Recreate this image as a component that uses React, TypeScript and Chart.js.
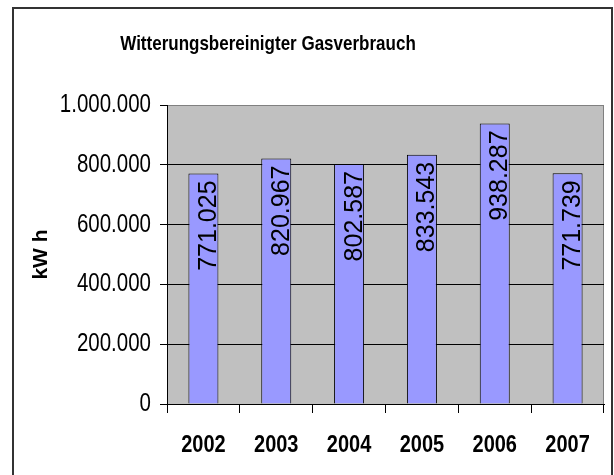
import { useEffect, useRef } from 'react';
import { Chart, registerables } from 'chart.js';

Chart.register(...registerables);

const years = ['2002', '2003', '2004', '2005', '2006', '2007'];
const consumption = [771025, 820967, 802587, 833543, 938287, 771739];
const yTickValues = [0, 200000, 400000, 600000, 800000, 1000000];
const chartTitle = 'Witterungsbereinigter Gasverbrauch';
const yAxisTitle = 'kW h';

const FONT = '"Liberation Sans", Arial, sans-serif';
// the reference's horizontal text is drawn slightly condensed (taller than wide)
const TEXT_STRETCH = 1.22;

const fmt = (n: number) => String(Math.round(n)).replace(/\B(?=(\d{3})+(?!\d))/g, '.');

const stretchPlugin = {
  id: 'textStretch',
  beforeDraw(chart: any) {
    const ctx: any = chart.ctx;
    if (ctx.__origFillText) return;
    const orig = ctx.fillText;
    ctx.__origFillText = orig;
    ctx.fillText = function (this: any, ...args: any[]) {
      const t: DOMMatrix = this.getTransform();
      if (Math.abs(t.b) > 1e-6 || Math.abs(t.c) > 1e-6) {
        return orig.apply(this, args);
      }
      const x = args[1];
      const y = args[2];
      const py = t.b * x + t.d * y + t.f;
      this.save();
      const m = new DOMMatrix().translate(0, py).scale(1, TEXT_STRETCH).translate(0, -py).multiply(t);
      this.setTransform(m);
      const r = orig.apply(this, args);
      this.restore();
      return r;
    };
  },
};

const framePlugin = {
  id: 'frame',
  beforeDraw(chart: any) {
    const { ctx, chartArea } = chart;
    ctx.save();
    ctx.fillStyle = '#ffffff';
    ctx.fillRect(0, 0, chart.width, chart.height);
    // outer border
    ctx.strokeStyle = '#333333';
    ctx.lineWidth = 2;
    ctx.beginPath();
    ctx.moveTo(13, 480);
    ctx.lineTo(13, 8);
    ctx.lineTo(612, 8);
    ctx.lineTo(612, 480);
    ctx.stroke();
    // plot area
    ctx.fillStyle = '#C0C0C0';
    ctx.fillRect(chartArea.left, chartArea.top, chartArea.right - chartArea.left, chartArea.bottom - chartArea.top);
    ctx.strokeStyle = '#808080';
    ctx.lineWidth = 1;
    ctx.strokeRect(chartArea.left + 0.5, chartArea.top + 0.5, chartArea.right - chartArea.left - 1, chartArea.bottom - chartArea.top);
    ctx.restore();
  },
  afterDraw(chart: any) {
    const { ctx } = chart;
    ctx.save();
    ctx.fillStyle = '#000';
    ctx.font = `bold 17px ${FONT}`;
    ctx.textAlign = 'center';
    ctx.textBaseline = 'alphabetic';
    ctx.fillText(chartTitle, 268, 49.5);
    ctx.restore();
  },
};

const labelPlugin = {
  id: 'barLabels',
  afterDatasetsDraw(chart: any) {
    const { ctx } = chart;
    const meta = chart.getDatasetMeta(0);
    const data = chart.data.datasets[0].data as number[];
    ctx.save();
    ctx.fillStyle = '#000';
    ctx.font = `25px ${FONT}`;
    ctx.textAlign = 'right';
    ctx.textBaseline = 'alphabetic';
    meta.data.forEach((bar: any, i: number) => {
      ctx.save();
      ctx.translate(bar.x, bar.y + 7);
      ctx.rotate(-Math.PI / 2);
      ctx.fillText(fmt(data[i]), 0, 12.5);
      ctx.restore();
    });
    ctx.restore();
  },
};

export default function App() {
  const ref = useRef<HTMLCanvasElement>(null);
  useEffect(() => {
    if (!ref.current) return;
    const chart = new Chart(ref.current, {
      type: 'bar',
      data: {
        labels: years,
        datasets: [
          {
            data: consumption,
            backgroundColor: '#9999FF',
            borderColor: '#000000',
            borderWidth: 1,
            barPercentage: 0.412,
            categoryPercentage: 1,
          },
        ],
      },
      options: {
        animation: false,
        responsive: false,
        devicePixelRatio: 1,
        layout: { padding: { top: 105, right: 10, bottom: 0, left: 0 } },
        plugins: {
          legend: { display: false },
          tooltip: { enabled: false },
          title: { display: false },
        },
        scales: {
          x: {
            afterFit: (s: any) => { s.height = 71; },
            grid: {
              display: true,
              offset: true,
              drawOnChartArea: false,
              drawTicks: true,
              tickLength: 9,
              color: '#000',
              tickColor: '#000',
            },
            border: { display: true, color: '#000', width: 1 },
            ticks: {
              color: '#000',
              font: { family: FONT, size: 20, weight: 'bold' },
              padding: 20,
              maxRotation: 0,
            },
          },
          y: {
            min: yTickValues[0],
            max: yTickValues[yTickValues.length - 1],
            afterFit: (s: any) => { s.width = 167; },
            afterBuildTicks: (s: any) => { s.ticks = yTickValues.map((v) => ({ value: v })); },
            grid: {
              color: (c: any) => (c.tick && c.tick.value === yTickValues[yTickValues.length - 1] ? 'rgba(0,0,0,0)' : '#000'),
              tickColor: '#000',
              tickLength: 7,
              lineWidth: 1,
            },
            border: { display: true, color: '#000', width: 1 },
            ticks: {
              color: '#000',
              font: { family: FONT, size: 20.5 },
              padding: 9,
              callback: (v: any) => fmt(Number(v)),
            },
            title: {
              display: true,
              text: yAxisTitle,
              color: '#000',
              font: { family: FONT, size: 21, weight: 'bold' },
              padding: { top: 29, bottom: 0 },
            },
          },
        },
      },
      plugins: [stretchPlugin, framePlugin, labelPlugin],
    });
    return () => chart.destroy();
  }, []);
  return (
    <div style={{ position: 'fixed', left: 0, top: 0, width: 614, height: 475, overflow: 'hidden', background: '#fff' }}>
      <canvas ref={ref} width={614} height={475} style={{ display: 'block' }} />
    </div>
  );
}
